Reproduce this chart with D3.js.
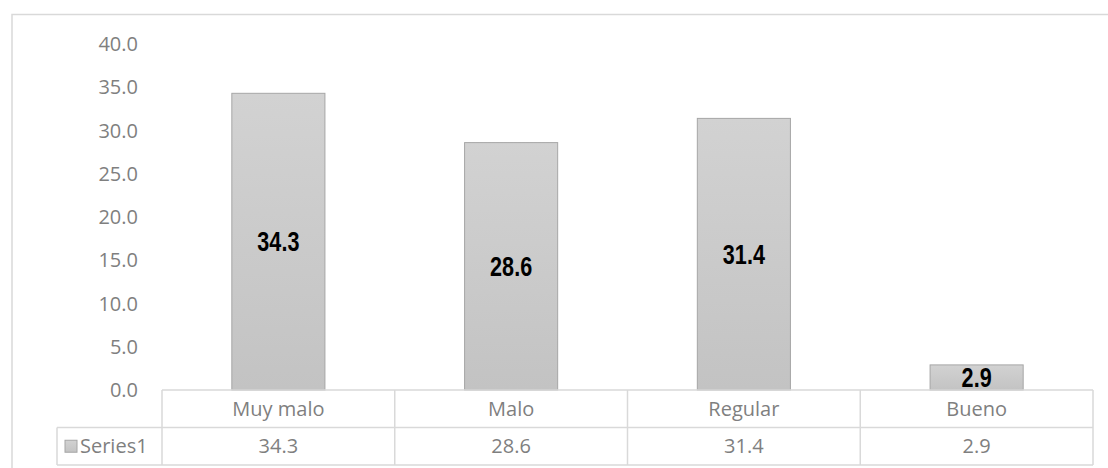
<!DOCTYPE html>
<html>
<head>
<meta charset="utf-8">
<script src="https://cdn.jsdelivr.net/npm/d3@7"></script>
<style>
  body { margin: 0; background: #fff; }
  svg { display: block; }
</style>
</head>
<body>
<svg width="1108" height="468"></svg>
<script>
var categories = ['Muy malo', 'Malo', 'Regular', 'Bueno'];
var values = [34.3, 28.6, 31.4, 2.9];
var seriesName = 'Series1';
var yTicks = [0, 5, 10, 15, 20, 25, 30, 35, 40];

var svg = d3.select('svg');
var axisFont = '"Open Sans", "Liberation Sans", sans-serif';
var labelFont = '"Liberation Sans", Arial, sans-serif';
var lineColor = '#d9d9d9';
var textColor = '#7f7f7f';
var fontSize = '20px';

// outer chart border
svg.append('rect')
    .attr('x', 12).attr('y', 14.5)
    .attr('width', 1120).attr('height', 480)
    .attr('fill', 'none')
    .attr('stroke', lineColor)
    .attr('stroke-width', 1.5);

var x = d3.scaleBand()
    .domain(categories)
    .range([162, 1093])
    .paddingInner(0)
    .paddingOuter(0);

var y = d3.scaleLinear()
    .domain([0, 40])
    .range([390, 44]);

// gradient for bars
var defs = svg.append('defs');
var grad = defs.append('linearGradient')
    .attr('id', 'barGrad')
    .attr('x1', 0).attr('y1', 0).attr('x2', 0).attr('y2', 1);
grad.append('stop').attr('offset', '0%').attr('stop-color', '#d2d2d2');
grad.append('stop').attr('offset', '100%').attr('stop-color', '#c3c3c3');

// y axis labels
svg.append('g').selectAll('text')
    .data(yTicks)
    .enter().append('text')
    .attr('x', 138)
    .attr('y', d => y(d))
    .attr('dy', '0.35em')
    .attr('text-anchor', 'end')
    .attr('fill', textColor)
    .style('font-family', axisFont)
    .style('font-size', fontSize)
    .text(d => d3.format('.1f')(d));

var bw = x.bandwidth() * 0.4;

// bars
svg.append('g').selectAll('rect')
    .data(values)
    .enter().append('rect')
    .attr('x', (d, i) => x(categories[i]) + (x.bandwidth() - bw) / 2)
    .attr('y', d => y(d))
    .attr('width', bw)
    .attr('height', d => y(0) - y(d))
    .attr('fill', 'url(#barGrad)')
    .attr('stroke', '#a6a6a6')
    .attr('stroke-width', 1);

// data labels (narrow bold)
svg.append('g').selectAll('g')
    .data(values)
    .enter().append('g')
    .attr('transform', (d, i) => `translate(${x(categories[i]) + x.bandwidth() / 2},${(y(d) + y(0)) / 2}) scale(0.8,1)`)
    .append('text')
    .attr('dy', '0.36em')
    .attr('text-anchor', 'middle')
    .attr('fill', '#000')
    .style('font-family', labelFont)
    .style('font-weight', 'bold')
    .style('font-size', '27px')
    .text(d => d3.format('.1f')(d));

// data table
var rowTop = 390, rowH = 37.5;
var table = svg.append('g')
    .attr('fill', 'none')
    .attr('stroke', lineColor)
    .attr('stroke-width', 1.5);

// horizontal lines
table.append('line').attr('x1', 162).attr('x2', 1093).attr('y1', rowTop).attr('y2', rowTop);
table.append('line').attr('x1', 57).attr('x2', 1093).attr('y1', rowTop + rowH).attr('y2', rowTop + rowH);
table.append('line').attr('x1', 57).attr('x2', 1093).attr('y1', rowTop + 2 * rowH).attr('y2', rowTop + 2 * rowH);
// vertical lines
table.append('line').attr('x1', 57).attr('x2', 57).attr('y1', rowTop + rowH).attr('y2', rowTop + 2 * rowH);
table.selectAll('line.v')
    .data(categories.concat(['end']))
    .enter().append('line')
    .attr('class', 'v')
    .attr('x1', (d, i) => i < categories.length ? x(d) : x.range()[1])
    .attr('x2', (d, i) => i < categories.length ? x(d) : x.range()[1])
    .attr('y1', rowTop)
    .attr('y2', rowTop + 2 * rowH);

// category row
svg.append('g').selectAll('text')
    .data(categories)
    .enter().append('text')
    .attr('x', d => x(d) + x.bandwidth() / 2)
    .attr('y', rowTop + rowH / 2)
    .attr('dy', '0.35em')
    .attr('text-anchor', 'middle')
    .attr('fill', textColor)
    .style('font-family', axisFont)
    .style('font-size', fontSize)
    .text(d => d);

// values row
svg.append('g').selectAll('text')
    .data(values)
    .enter().append('text')
    .attr('x', (d, i) => x(categories[i]) + x.bandwidth() / 2)
    .attr('y', rowTop + rowH * 1.5)
    .attr('dy', '0.35em')
    .attr('text-anchor', 'middle')
    .attr('fill', textColor)
    .style('font-family', axisFont)
    .style('font-size', fontSize)
    .text(d => d3.format('.1f')(d));

// legend key in table
svg.append('rect')
    .attr('x', 65).attr('y', rowTop + rowH * 1.5 - 6)
    .attr('width', 12).attr('height', 12)
    .attr('fill', 'url(#barGrad)')
    .attr('stroke', '#a6a6a6');
svg.append('text')
    .attr('x', 80)
    .attr('y', rowTop + rowH * 1.5)
    .attr('dy', '0.35em')
    .attr('fill', textColor)
    .style('font-family', axisFont)
    .style('font-size', fontSize)
    .text(seriesName);
</script>
</body>
</html>
